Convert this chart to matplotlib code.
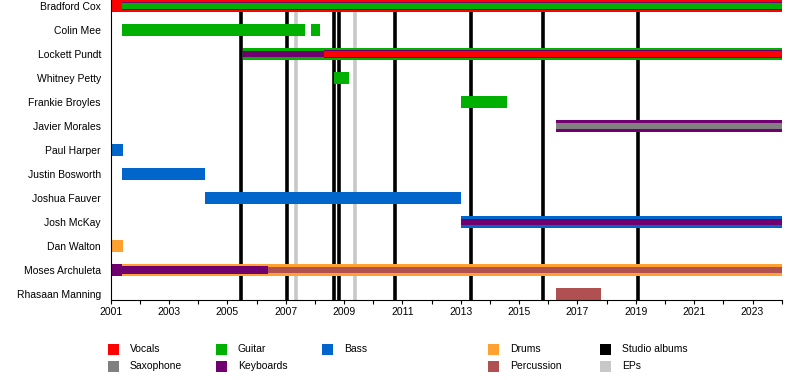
import matplotlib
matplotlib.use("Agg")
import matplotlib.pyplot as plt
from matplotlib.patches import Rectangle

plt.rcParams['font.family'] = ['Liberation Sans', 'DejaVu Sans']

members = ["Bradford Cox", "Colin Mee", "Lockett Pundt", "Whitney Petty",
           "Frankie Broyles", "Javier Morales", "Paul Harper", "Justin Bosworth",
           "Joshua Fauver", "Josh McKay", "Dan Walton", "Moses Archuleta",
           "Rhasaan Manning"]

instrument_colors = {
    "Vocals": "#FF0000",
    "Guitar": "#00B000",
    "Bass": "#0066CC",
    "Drums": "#FFA030",
    "Saxophone": "#808080",
    "Keyboards": "#700070",
    "Percussion": "#B05050",
}

# (member, instrument, start, end, layer) ; layer 0 = main role, 1/2 = secondary roles
periods = [
    ("Bradford Cox", "Vocals", 2001.0, 2024.0, 0),
    ("Bradford Cox", "Keyboards", 2001.4, 2024.0, 1),
    ("Bradford Cox", "Guitar", 2001.4, 2024.0, 2),
    ("Colin Mee", "Guitar", 2001.4, 2007.67, 0),
    ("Colin Mee", "Guitar", 2007.87, 2008.19, 0),
    ("Lockett Pundt", "Guitar", 2005.55, 2024.0, 0),
    ("Lockett Pundt", "Keyboards", 2005.55, 2008.3, 2),
    ("Lockett Pundt", "Keyboards", 2008.3, 2024.0, 1),
    ("Lockett Pundt", "Vocals", 2008.3, 2024.0, 2),
    ("Whitney Petty", "Guitar", 2008.66, 2009.18, 0),
    ("Frankie Broyles", "Guitar", 2013.0, 2014.57, 0),
    ("Javier Morales", "Keyboards", 2016.25, 2024.0, 0),
    ("Javier Morales", "Saxophone", 2016.25, 2024.0, 2),
    ("Paul Harper", "Bass", 2001.0, 2001.42, 0),
    ("Justin Bosworth", "Bass", 2001.4, 2004.24, 0),
    ("Joshua Fauver", "Bass", 2004.24, 2013.0, 0),
    ("Josh McKay", "Bass", 2013.0, 2024.0, 0),
    ("Josh McKay", "Keyboards", 2013.0, 2024.0, 2),
    ("Dan Walton", "Drums", 2001.0, 2001.42, 0),
    ("Moses Archuleta", "Keyboards", 2001.0, 2001.4, 0),
    ("Moses Archuleta", "Drums", 2001.4, 2024.0, 0),
    ("Moses Archuleta", "Keyboards", 2001.4, 2006.4, 1),
    ("Moses Archuleta", "Percussion", 2006.4, 2024.0, 2),
    ("Rhasaan Manning", "Percussion", 2016.25, 2017.79, 0),
]

studio_albums = [2005.47, 2007.06, 2008.64, 2008.81, 2010.73, 2013.36, 2015.82, 2019.07]
eps = [2007.34, 2009.36]

legend_items = [("Vocals", "#FF0000"), ("Saxophone", "#808080"),
                ("Guitar", "#00B000"), ("Keyboards", "#700070"),
                ("Bass", "#0066CC"), (None, None),
                ("Drums", "#FFA030"), ("Percussion", "#B05050"),
                ("Studio albums", "#000000"), ("EPs", "#C8C8C8")]

layer_height = {0: 0.5, 1: 0.34, 2: 0.23}

fig = plt.figure(figsize=(8, 3.8), dpi=100)
ax = fig.add_axes([110.7 / 800, 80 / 380, 671 / 800, 300 / 380])

for x in studio_albums:
    ax.axvline(x, color="black", lw=2.6, zorder=1)
for x in eps:
    ax.axvline(x, color="#C8C8C8", lw=2.6, zorder=1)

ypos = {m: i for i, m in enumerate(members)}
for layer in (0, 1, 2):
    for m, inst, s, e, l in periods:
        if l != layer:
            continue
        ax.barh(ypos[m], e - s, left=s, height=layer_height[l],
                color=instrument_colors[inst], zorder=2 + layer, linewidth=0)

ax.set_xlim(2001, 2024)
ax.set_ylim(len(members) - 0.75, -0.25)
ax.set_yticks(range(len(members)))
ax.set_yticklabels(members, fontsize=7.5)
ax.tick_params(axis="y", length=0, pad=7)
ax.set_xticks(range(2001, 2024, 2))
ax.set_xticks(range(2002, 2025, 2), minor=True)
ax.tick_params(axis="x", which="both", length=3, width=0.8, labelsize=7.5, pad=2)
for side in ("top", "right"):
    ax.spines[side].set_visible(False)
for side in ("left", "bottom"):
    ax.spines[side].set_linewidth(0.8)

# legend at the bottom of the figure
col_x = [108, 216, 322, 488, 600]
row_y = [349, 366]
for k, (label, color) in enumerate(legend_items):
    if label is None:
        continue
    cx = col_x[k // 2]
    cy = row_y[k % 2]
    fig.add_artist(Rectangle((cx / 800, (380 - cy - 5.5) / 380), 11 / 800, 11 / 380,
                             transform=fig.transFigure, color=color, lw=0))
    fig.text((cx + 22) / 800, (380 - cy) / 380, label, fontsize=7.5, va="center", ha="left")

fig.savefig("out.png", dpi=100)
